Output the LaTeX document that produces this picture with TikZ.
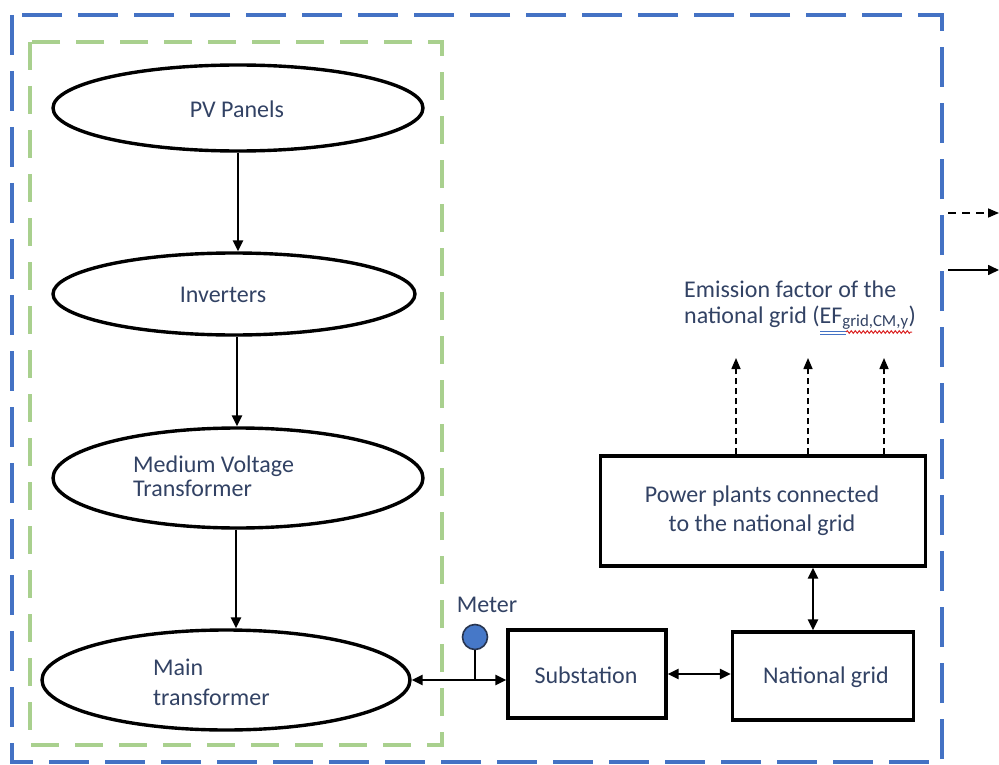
\documentclass[tikz,border=0pt]{standalone}
\usepackage{fontspec}
\setmainfont{Carlito}
\usepackage{tikz}
\usetikzlibrary{positioning,arrows.meta,calc,shapes.geometric,decorations.pathmorphing}
\definecolor{ink}{RGB}{50,66,100}
\definecolor{frameblue}{RGB}{68,114,196}
\definecolor{framegreen}{RGB}{169,208,142}
\definecolor{meterblue}{RGB}{70,120,200}
\definecolor{spellred}{RGB}{220,40,40}
\tikzset{
  unit/.style={draw=black, ellipse, line width=3.4pt, inner sep=0pt},
  blk/.style={draw=black, line width=3.4pt, inner sep=0pt},
  lbl/.style={font=\fontsize{24}{27}\selectfont, text=ink, inner sep=0pt},
  flow/.style={-{Triangle[length=11pt,width=10pt]}, line width=2.4pt},
  both/.style={{Triangle[length=11pt,width=10pt]}-{Triangle[length=11pt,width=10pt]}, line width=2.4pt},
  emis/.style={-{Triangle[length=11pt,width=9pt]}, line width=1.5pt, dash pattern=on 6pt off 4pt},
}
\begin{document}
\begin{tikzpicture}[x=1pt, y=-1pt]
\useasboundingbox (0,0) rectangle (999,765);
% frames
\draw[frameblue, line width=4.5pt, dash pattern=on 40pt off 16pt] (12,15) rectangle (942,762);
\draw[framegreen, line width=3.5pt, dash pattern=on 28pt off 16pt] (30,42) rectangle (442,745);
% plant chain
\node[unit, minimum width=370pt, minimum height=86pt] (pv) at (238,108) {};
\node[unit, minimum width=362pt, minimum height=82pt] (inv) at (234,294) {};
\node[unit, minimum width=370pt, minimum height=100pt] (mvt) at (238,478) {};
\node[unit, minimum width=368pt, minimum height=100pt] (mtr) at (226,680) {};
\node[lbl] (pvtxt) at (237,109) {PV Panels};
\node[lbl] (invtxt) at (223,295) {Inverters};
\node[lbl, align=left, anchor=west, font=\fontsize{24}{24}\selectfont] (mvttxt) at (133,476) {Medium Voltage\\Transformer};
\node[lbl, align=left, anchor=west, font=\fontsize{24}{30}\selectfont] (mtrtxt) at (153,682) {Main\\transformer};
\coordinate (a1) at ($(pv.south)+(0,0)$);
\coordinate (a2) at ($(inv.south)+(3,0)$);
\coordinate (a3) at ($(mvt.south)+(-2,0)$);
\draw[flow] (a1) -- (a1 |- inv.north);
\draw[flow] (a2) -- (a2 |- mvt.north);
\draw[flow] (a3) -- (a3 |- mtr.north);
% grid side
\node[blk, minimum width=158pt, minimum height=88pt] (sub) at (587,674) {};
\node[lbl] (subtxt) at (586,675) {Substation};
\node[blk, minimum width=181pt, minimum height=88pt] (ng) at (823,676) {};
\node[lbl] (ngtxt) at (826,677) {National grid};
\node[blk, minimum width=325pt, minimum height=110pt] (pp) at (763,511) {};
\node[lbl, align=center, font=\fontsize{24}{29}\selectfont] (pptxt) at (762,511) {Power plants connected\\to the national grid};
\draw[both] (mtr.east) -- (sub.west |- mtr.east);
\draw[both] (sub.east) -- (ng.west |- sub.east);
\coordinate (up) at (813,0);
\draw[both] (pp.south -| up) -- (ng.north -| up);
% meter
\coordinate (tap) at (475,679);
\node[circle, draw=ink!80!black, fill=meterblue, line width=1.6pt, minimum size=25pt, inner sep=0pt] (meter) at (475,637) {};
\draw[line width=2.2pt] (meter.south) -- (tap);
\node[lbl] (metertxt) at (487,605) {Meter};
% emission factor
\foreach \xx in {736,808,884} {
  \coordinate (e\xx) at (\xx,358);
  \draw[emis] (pp.north -| e\xx) -- (e\xx);
}
\node[lbl, align=left, anchor=west, font=\fontsize{24}{26}\selectfont] (eftxt) at (684,305) {Emission factor of the\\national grid (EF\textsubscript{grid,CM,y})};
\draw[frameblue, line width=1pt] (820,331) -- (846,331);
\draw[frameblue, line width=1pt] (820,334) -- (846,334);
\draw[spellred, line width=1pt, decorate, decoration={snake, amplitude=1.3pt, segment length=4pt}] (846,332) -- (912,332);
% legend
\coordinate (legd) at (999,213);
\coordinate (legs) at (999,270);
\draw[emis, line width=1.6pt, dash pattern=on 8pt off 6pt] (948,213) -- (legd);
\draw[flow, line width=1.6pt] (948,270) -- (legs);
\end{tikzpicture}
\end{document}
